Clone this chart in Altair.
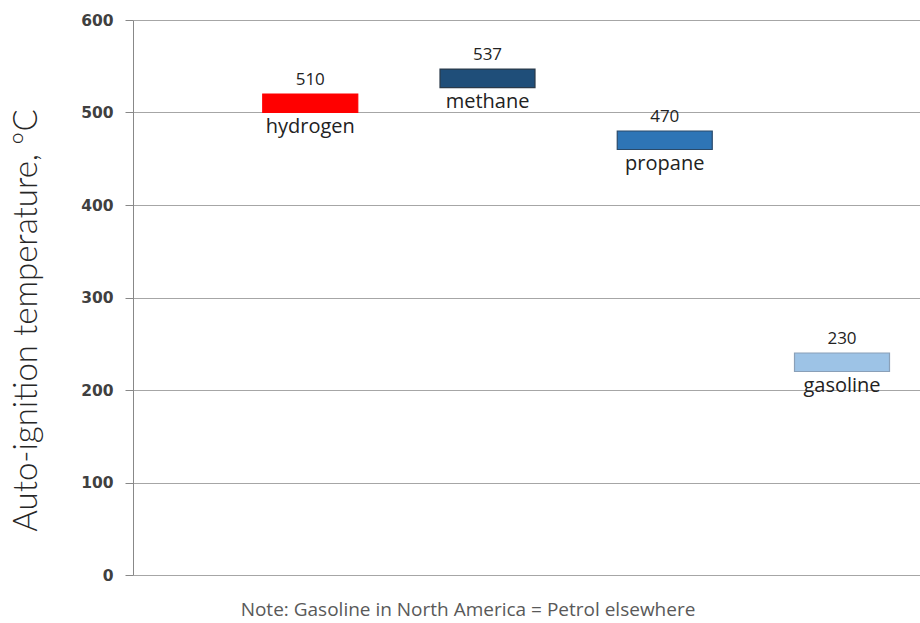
import altair as alt
import pandas as pd

fuels = ["hydrogen", "methane", "propane", "gasoline"]
temps = [510, 537, 470, 230]
positions = [1, 2, 3, 4]
colors = ["#ff0000", "#1f4e79", "#2e75b6", "#9dc3e6"]
strokes = ["#ff0000", "#2a3a4a", "#2a4a6a", "#8aa0b8"]

df = pd.DataFrame({"fuel": fuels, "temp": temps, "pos": positions})

xs = alt.X("pos:Q", scale=alt.Scale(domain=[0, 4.44], nice=False, zero=False, padding=0), axis=None)
color = alt.Color("fuel:N", scale=alt.Scale(domain=fuels, range=colors), legend=None)
stroke = alt.Stroke("fuel:N", scale=alt.Scale(domain=fuels, range=strokes), legend=None)

base = alt.Chart(df).transform_calculate(lo="datum.temp - 10", hi="datum.temp + 10")

bars = base.mark_bar(size=95, strokeWidth=1.2).encode(
    x=xs,
    y=alt.Y("lo:Q", scale=alt.Scale(domain=[0, 600], nice=False),
            axis=alt.Axis(values=[0, 100, 200, 300, 400, 500, 600],
                          title="Auto-ignition temperature, ºC",
                          titleFont="Lato", titleFontWeight=300, titleFontSize=33,
                          titleColor="#262626", titleX=-97, titleY=300,
                          titleBaseline="alphabetic", titleAlign="center",
                          labelFont="DejaVu Sans", labelFontWeight="bold",
                          labelFontSize=15.5, labelColor="#404040", labelPadding=12,
                          tickSize=8, tickColor="#888888", domainColor="#888888",
                          gridColor="#a6a6a6", grid=True)),
    y2="hi:Q",
    color=color,
    stroke=stroke,
)

vals = base.mark_text(font="Open Sans", fontSize=17, color="#222222",
                      baseline="bottom", dy=-5).encode(
    x=xs, y="hi:Q", text="temp:Q")

names = base.mark_text(font="Open Sans", fontSize=20, color="#222222",
                       baseline="middle", dy=14).encode(
    x=xs, y="lo:Q", text="fuel:N")

note = alt.Chart(pd.DataFrame({"t": ["Note: Gasoline in North America = Petrol elsewhere"]})).mark_text(
    font="Open Sans", fontSize=19, color="#595959", baseline="middle"
).encode(x=alt.value(335), y=alt.value(590), text="t:N")

chart = alt.layer(bars, vals, names, note).properties(
    width=787, height=555,
    autosize=alt.AutoSizeParams(type="none"),
    padding={"left": 133, "top": 20, "right": 0, "bottom": 48},
).configure_view(stroke=None).configure_axis(gridWidth=1)

chart.save("out.html", embed_options={"renderer": "svg", "actions": False})
